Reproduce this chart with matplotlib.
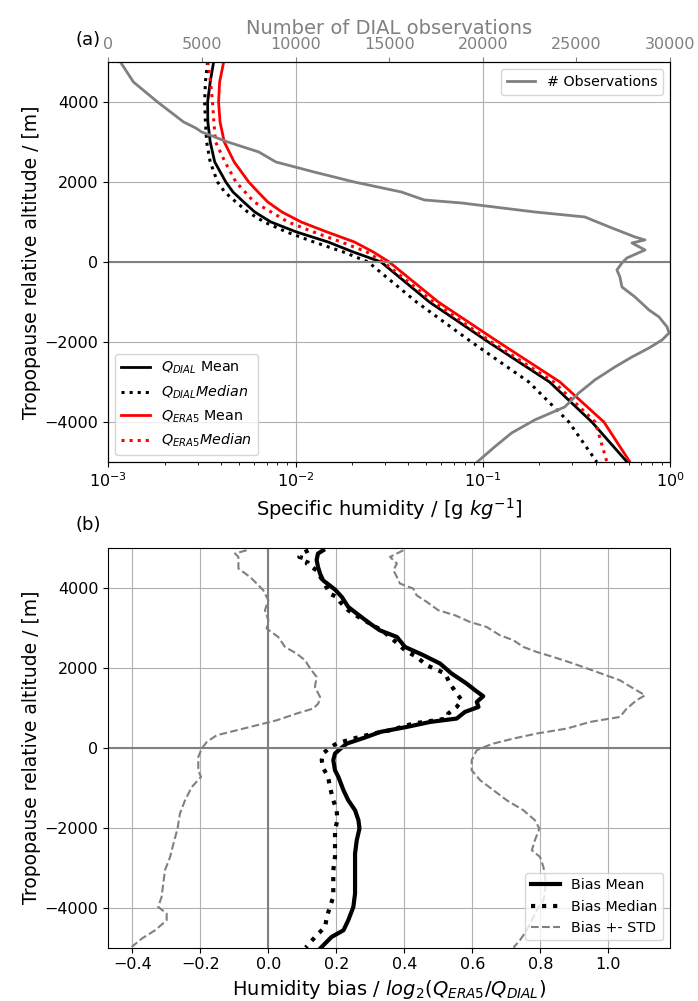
import matplotlib
matplotlib.use('Agg')
import matplotlib.pyplot as plt
import numpy as np

# panel (a): specific humidity profiles [g/kg] vs tropopause relative altitude [m]
alt_q = [5000, 4500, 4000, 3500, 3000, 2500, 2000, 1750, 1500, 1250, 1000, 750, 500, 250,
         0, -1000, -2000, -3000, -4000, -5000]
q_dial_mean = [0.00365, 0.0035, 0.00339, 0.0034, 0.0035, 0.0037, 0.00424, 0.00463, 0.00528,
               0.00605, 0.00738, 0.0101, 0.0149, 0.0203, 0.0286, 0.0518, 0.107, 0.227,
               0.382, 0.589]
q_dial_median = [0.00339, 0.0033, 0.00327, 0.0033, 0.00335, 0.0035, 0.00383, 0.00418,
                 0.0048, 0.00555, 0.0068, 0.00895, 0.0125, 0.018, 0.0244, 0.0442, 0.0869,
                 0.176, 0.288, 0.406]
q_era5_mean = [0.00413, 0.00393, 0.00388, 0.00395, 0.00416, 0.0047, 0.00562, 0.0063,
               0.0071, 0.00845, 0.0107, 0.0147, 0.0206, 0.026, 0.0316, 0.0578, 0.121,
               0.258, 0.443, 0.61]
q_era5_median = [0.0034, 0.00351, 0.0036, 0.00366, 0.00374, 0.0042, 0.0048, 0.00537,
                 0.006, 0.0074, 0.0091, 0.01245, 0.0175, 0.024, 0.0294, 0.0545, 0.111,
                 0.239, 0.398, 0.46]

# number of DIAL observations
alt_n = [5000, 4500, 4000, 3500, 3350, 3250, 3000, 2750, 2500, 2250, 2000, 1750, 1550,
         1475, 1250, 1125, 850, 625, 550, 475, 300, 100, -25, -200, -375, -625, -875,
         -1200, -1375, -1625, -1775, -1950, -2150, -2375, -2625, -2950, -3275, -3625,
         -3950, -4275, -4625, -5000]
n_obs = [643, 1339, 2625, 4018, 4661, 4982, 6375, 8036, 8946, 10982, 13125, 15643, 16875,
         18857, 22768, 25446, 26893, 28125, 28660, 27964, 28660, 27696, 27429, 27161, 27321,
         27429, 28125, 28875, 29411, 29839, 29946, 29571, 28875, 27964, 27054, 25982, 25125,
         24375, 22768, 21536, 20625, 19700]

# panel (b): humidity bias log2(Q_ERA5/Q_DIAL)
alt_bmean = [4930, 4850, 4690, 4515, 4350, 4180, 3950, 3765, 3515, 3350, 3100, 2930, 2765,
             2515, 2308, 2100, 1850, 1600, 1433, 1283, 1140, 1015, 890, 725, 640, 515, 390,
             265, 100, 0, -150, -317, -567, -735, -1068, -1318, -1568, -1818, -2025, -2318,
             -2650, -2985, -3318, -3650, -3985, -4318, -4568, -4735, -5000]
bias_mean = [0.161, 0.146, 0.142, 0.146, 0.152, 0.161, 0.196, 0.216, 0.235, 0.26, 0.299,
             0.328, 0.378, 0.402, 0.456, 0.505, 0.539, 0.583, 0.608, 0.632, 0.613, 0.618,
             0.578, 0.554, 0.476, 0.407, 0.329, 0.289, 0.231, 0.216, 0.196, 0.191, 0.196,
             0.206, 0.221, 0.235, 0.255, 0.265, 0.268, 0.26, 0.255, 0.255, 0.255, 0.255,
             0.25, 0.235, 0.221, 0.186, 0.155]

alt_bmed = [4930, 4850, 4765, 4700, 4600, 4430, 3932, 3850, 3765, 3640, 3432, 3265, 3100,
            2932, 2765, 2432, 2265, 2057, 1850, 1600, 1350, 1183, 1015, 850, 725, 600, 432,
            350, 225, 100, 17, -150, -317, -525, -735, -985, -1318, -1568, -1818, -2068,
            -2400, -2735, -3068, -3400, -3735, -3985, -4235, -4485, -4693, -5000]
bias_median = [0.118, 0.098, 0.091, 0.118, 0.113, 0.142, 0.176, 0.18, 0.201, 0.211, 0.235,
               0.265, 0.299, 0.333, 0.358, 0.402, 0.436, 0.466, 0.52, 0.534, 0.554, 0.569,
               0.554, 0.529, 0.525, 0.426, 0.358, 0.309, 0.25, 0.201, 0.185, 0.16, 0.157,
               0.162, 0.176, 0.181, 0.191, 0.201, 0.203, 0.196, 0.196, 0.196, 0.191, 0.191,
               0.191, 0.181, 0.172, 0.167, 0.142, 0.11]

alt_blow = [4932, 4850, 4765, 4475, 4265, 4100, 3932, 3682, 3432, 3182, 2975, 2765, 2515,
            2350, 2182, 1975, 1765, 1515, 1265, 1100, 975, 850, 682, 557, 432, 307, 140,
            -25, -235, -567, -735, -985, -1318, -1650, -2025, -2400, -2735, -3068, -3400,
            -3735, -3985, -4150, -4318, -4568, -4775, -4985]
bias_low = [-0.064, -0.098, -0.088, -0.088, -0.054, -0.034, -0.015, 0.0, -0.01, 0.0, -0.005,
            0.029, 0.049, 0.083, 0.108, 0.123, 0.142, 0.137, 0.152, 0.147, 0.132, 0.083,
            0.025, -0.034, -0.093, -0.152, -0.181, -0.196, -0.206, -0.206, -0.198, -0.225,
            -0.245, -0.26, -0.267, -0.279, -0.289, -0.304, -0.309, -0.314, -0.324, -0.299,
            -0.299, -0.333, -0.372, -0.402]

alt_bhigh = [4932, 4765, 4600, 4432, 4265, 4100, 3975, 3807, 3640, 3432, 3307, 3140, 3015,
             2807, 2682, 2515, 2390, 2265, 2100, 1890, 1682, 1475, 1307, 1182, 975, 765,
             640, 475, 350, 225, 100, 30, -67, -317, -567, -817, -1067, -1317, -1567,
             -1817, -2025, -2317, -2567, -2735, -2985, -3235, -3567, -3817, -4067, -4317,
             -4567, -4817, -5000]
bias_high = [0.397, 0.358, 0.378, 0.368, 0.378, 0.387, 0.426, 0.436, 0.466, 0.5, 0.549,
             0.593, 0.642, 0.681, 0.721, 0.75, 0.789, 0.838, 0.897, 0.966, 1.034, 1.074,
             1.108, 1.083, 1.054, 1.034, 0.946, 0.878, 0.789, 0.721, 0.662, 0.64, 0.613,
             0.598, 0.598, 0.623, 0.662, 0.701, 0.75, 0.784, 0.797, 0.784, 0.775, 0.799,
             0.809, 0.814, 0.814, 0.809, 0.789, 0.775, 0.76, 0.74, 0.721]

fig = plt.figure(figsize=(6.98, 10.01), dpi=100)
ax1 = fig.add_axes([0.1552, 0.5385, 0.8048, 0.3996])
ax3 = fig.add_axes([0.1552, 0.0534, 0.8048, 0.3996])

# --- panel (a)
ax1.plot(q_dial_mean, alt_q, color='black', lw=2, label=r'$Q_{DIAL}$ Mean')
ax1.plot(q_dial_median, alt_q, color='black', lw=2.2, ls=':', label=r'$Q_{DIAL} Median$')
ax1.plot(q_era5_mean, alt_q, color='red', lw=2, label=r'$Q_{ERA5}$ Mean')
ax1.plot(q_era5_median, alt_q, color='red', lw=2.2, ls=':', label=r'$Q_{ERA5} Median$')
ax1.axhline(0, color='grey', lw=1.5)
ax1.set_xscale('log')
ax1.set_xlim(1e-3, 1e0)
ax1.set_ylim(-5000, 5000)
ax1.grid(True, color='#b0b0b0', lw=0.8)
ax1.set_xlabel(r'Specific humidity / [g $kg^{-1}$]', fontsize=14)
ax1.set_ylabel('Tropopause relative altitude / [m]', fontsize=13.5, labelpad=3)
ax1.tick_params(labelsize=11.5)
ax1.legend(loc='lower left', fontsize=10.3)

ax2 = ax1.twiny()
ax2.plot(n_obs, alt_n, color='grey', lw=2, label='# Observations')
ax2.set_xlim(0, 30000)
ax2.set_xlabel('Number of DIAL observations', color='grey', fontsize=14, labelpad=2)
ax2.tick_params(axis='x', colors='grey', labelsize=11.5)
ax2.legend(loc='upper right', fontsize=10.3)

# --- panel (b)
ax3.plot(bias_mean, alt_bmean, color='black', lw=3, label='Bias Mean')
ax3.plot(bias_median, alt_bmed, color='black', lw=3, ls=':', label='Bias Median')
ax3.plot(bias_low, alt_blow, color='grey', lw=1.5, ls='--', label='Bias +- STD')
ax3.plot(bias_high, alt_bhigh, color='grey', lw=1.5, ls='--')
ax3.axhline(0, color='grey', lw=1.5)
ax3.axvline(0, color='grey', lw=1.5)
ax3.set_xlim(-0.4706, 1.1815)
ax3.set_ylim(-5000, 5000)
ax3.grid(True, color='#b0b0b0', lw=0.8)
ax3.set_xlabel(r'Humidity bias / $log_2(Q_{ERA5}/Q_{DIAL})$', fontsize=14)
ax3.set_ylabel('Tropopause relative altitude / [m]', fontsize=13.5, labelpad=3)
ax3.tick_params(labelsize=11.5)
ax3.legend(loc='lower right', fontsize=10.3)

fig.text(0.108, 0.955, '(a)', fontsize=13)
fig.text(0.108, 0.471, '(b)', fontsize=13)

fig.savefig('out.png', dpi=100)
